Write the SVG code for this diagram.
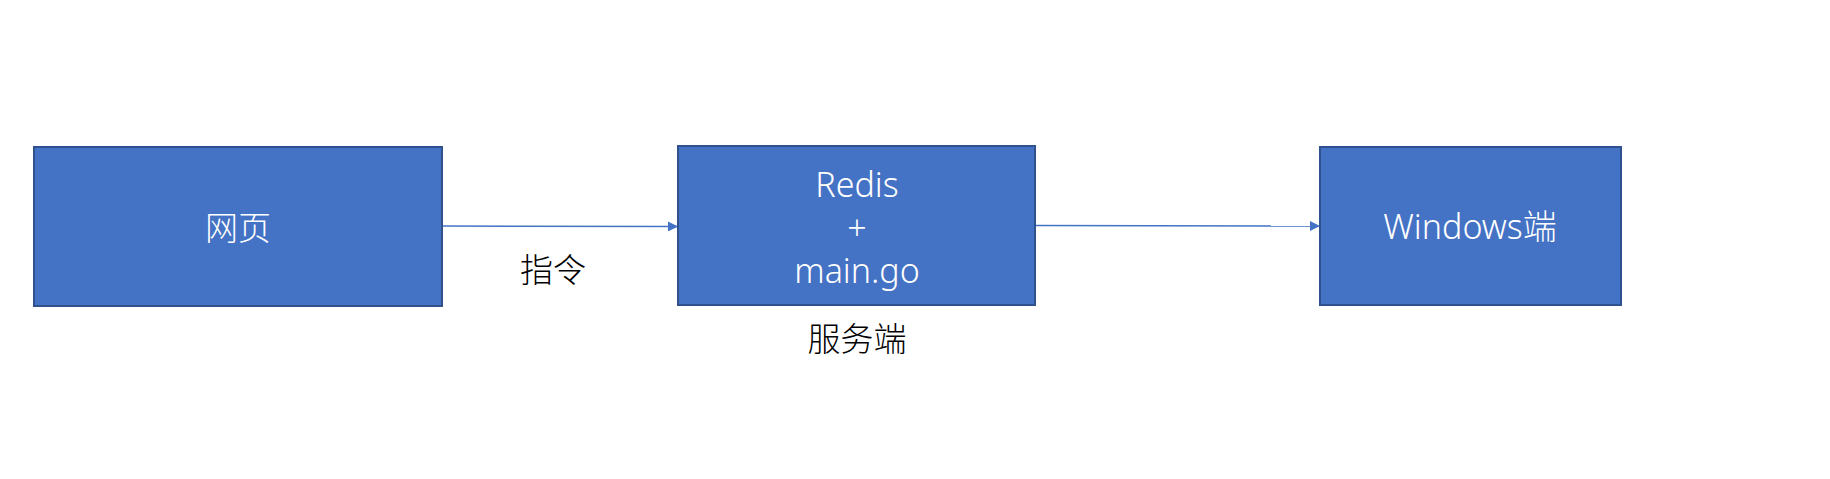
<svg xmlns="http://www.w3.org/2000/svg" width="1830" height="479" viewBox="0 0 1830 479">
<style>
.box{fill:#4472C4;stroke:#2F528F;stroke-width:2}
.t{font-family:"Microsoft YaHei","Noto Sans","Noto Sans CJK SC",sans-serif;font-size:34px;font-weight:300;text-anchor:middle;dominant-baseline:central}
.cj{font-family:"Noto Sans CJK SC",sans-serif;font-size:33px}
.w{fill:#FFFFFF}
.k{fill:#000000}
.c{stroke:#4472C4;stroke-width:1.5;fill:none}
</style>
<defs>
<marker id="ah" markerWidth="10" markerHeight="10" refX="9" refY="5" orient="auto" markerUnits="userSpaceOnUse">
<path d="M0,0 L10,5 L0,10 Z" fill="#4472C4"/>
</marker>
</defs>
<rect width="1830" height="479" fill="#FFFFFF"/>
<g id="connectors">
<line class="c" x1="443" y1="226" x2="677" y2="226.5" marker-end="url(#ah)"/>
<line class="c" x1="1036" y1="225.5" x2="1319" y2="226" marker-end="url(#ah)"/>
</g>
<g id="node-web">
<rect class="box" x="34" y="147" width="408" height="159"/>
<text class="t cj w" x="238" y="226">网页</text>
</g>
<g id="node-server">
<rect class="box" x="678" y="146" width="357" height="159"/>
<text class="t w" x="857" y="184">Redis</text>
<text class="t w" x="857" y="227">+</text>
<text class="t w" x="857" y="270">main.go</text>
</g>
<g id="node-windows">
<rect class="box" x="1320" y="147" width="301" height="158"/>
<text class="t w" x="1470" y="226">Windows端</text>
</g>
<g id="labels">
<text class="t cj k" x="553" y="268">指令</text>
<text class="t cj k" x="857" y="337">服务端</text>
</g>
</svg>
